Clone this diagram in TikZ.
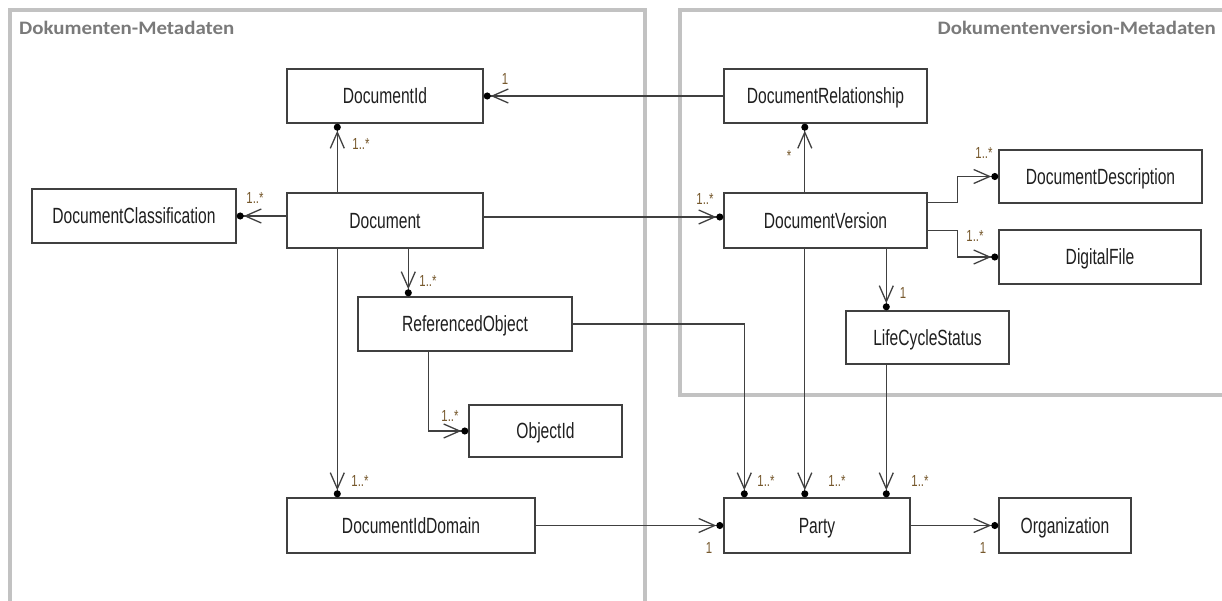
\documentclass[tikz,border=0pt]{standalone}
\usepackage{fontspec}
\setmainfont{Liberation Sans}
\newfontfamily\umlfont[FakeStretch=0.71]{Liberation Sans}
\newfontfamily\titlefont[FakeStretch=1.1]{Carlito}
\usetikzlibrary{arrows.meta}

\definecolor{framegray}{RGB}{194,194,194}
\definecolor{titlegray}{RGB}{122,122,122}
\definecolor{edgegray}{RGB}{64,64,64}
\definecolor{multcol}{RGB}{118,88,44}

\begin{document}
\begin{tikzpicture}[x=1pt,y=-1pt,
  cls/.style={draw=edgegray, line width=1.4pt, fill=white, inner sep=0pt,
    font=\umlfont\fontsize{22}{24}\selectfont, text=black!88,
    text height=15.8pt, text depth=0pt},
  assoc/.style={draw=edgegray, line width=1.3pt,
    -{Straight Barb[length=16pt,width=14pt,line width=1.3pt] Circle[length=7pt,color=black]}},
  mlt/.style={font=\umlfont\fontsize{16}{18}\selectfont, text=multcol, inner sep=0pt},
  frm/.style={draw=framegray, line width=4pt},
  ttl/.style={font=\titlefont\bfseries\fontsize{19}{22}\selectfont, text=titlegray, inner sep=0pt}
]
\fill[white] (0,0) rectangle (1222,601);
\useasboundingbox (0,0) rectangle (1222,601);

% package frames
\draw[frm] (10,10) rectangle (645,604);
\draw[frm] (680,10) rectangle (1228,395);
\node[ttl, anchor=base west] (ttlleft) at (19,35) {Dokumenten-Metadaten};
\node[ttl, anchor=base east] (ttlright) at (1216,35) {Dokumentenversion-Metadaten};

% classes
\node[cls, minimum width=196pt, minimum height=54pt] (docid)  at (385,96)    {DocumentId};
\node[cls, minimum width=203pt, minimum height=54pt] (docrel) at (825.5,96)  {DocumentRelationship};
\node[cls, minimum width=204pt, minimum height=54pt] (dcls)   at (134,216)   {DocumentClassification};
\node[cls, minimum width=196pt, minimum height=55pt] (doc)    at (385,220.5) {Document};
\node[cls, minimum width=203pt, minimum height=55pt] (dv)     at (825.5,220.5) {DocumentVersion};
\node[cls, minimum width=203pt, minimum height=53pt] (desc)   at (1100.5,176.5) {DocumentDescription};
\node[cls, minimum width=202pt, minimum height=54pt] (df)     at (1100,257)  {DigitalFile};
\node[cls, minimum width=163pt, minimum height=53pt] (lcs)    at (927.5,337.5) {LifeCycleStatus};
\node[cls, minimum width=214pt, minimum height=54pt] (ro)     at (465,324)   {ReferencedObject};
\node[cls, minimum width=153pt, minimum height=52pt] (oid)    at (545.5,431) {ObjectId};
\node[cls, minimum width=248pt, minimum height=55pt] (did)    at (411,525.5) {DocumentIdDomain};
\node[cls, minimum width=186pt, minimum height=55pt] (party)  at (817,525.5) {Party};
\node[cls, minimum width=132pt, minimum height=55pt] (org)    at (1065,525.5) {Organization};

% associations
\draw[assoc] (docrel.west) -- (docid.east);
\draw[assoc] ([xshift=51pt]doc.north west) -- ([xshift=51pt]docid.south west);
\draw[assoc] (doc.west |- dcls.east) -- (dcls.east);
\draw[assoc] ([yshift=3.5pt]doc.east) -- ([yshift=3.5pt]dv.west);
\draw[assoc] ([xshift=81.5pt]dv.north west) -- ([xshift=81.5pt]docrel.south west);
\draw[assoc] ([xshift=122pt]doc.south west) -- ([xshift=51pt]ro.north west);
\draw[assoc] ([xshift=51pt]doc.south west) -- ([xshift=51pt]did.north west);
\draw[assoc] ([xshift=71pt]ro.south west) |- (oid.west);
\draw[assoc] (ro.east) -| ([xshift=21pt]party.north west);
\draw[assoc] ([xshift=81.5pt]dv.south west) -- ([xshift=81.5pt]party.north west);
\draw[assoc] ([xshift=41pt]lcs.south west) -- ([xshift=163pt]party.north west);
\draw[assoc] ([xshift=163pt]dv.south west) -- ([xshift=41pt]lcs.north west);
\draw[assoc] ([yshift=-10pt]dv.north east) -- ++(30,0) |- (desc.west);
\draw[assoc] ([yshift=18pt]dv.south east) -- ++(30,0) |- (df.west);
\draw[assoc] (did.east) -- (party.west);
\draw[assoc] (party.east) -- (org.west);

% multiplicities
\node[mlt] (m1)  at (505,79)  {1};
\node[mlt] (m2)  at (361,144) {1..*};
\node[mlt] (m3)  at (255,198) {1..*};
\node[mlt] (m4)  at (705,199) {1..*};
\node[mlt] (m5)  at (789,156) {*};
\node[mlt] (m6)  at (428,281) {1..*};
\node[mlt] (m7)  at (450,416) {1..*};
\node[mlt] (m8)  at (360,481) {1..*};
\node[mlt] (m9)  at (766,481) {1..*};
\node[mlt] (m10) at (837,481) {1..*};
\node[mlt] (m11) at (920,481) {1..*};
\node[mlt] (m12) at (903,293) {1};
\node[mlt] (m13) at (984,153) {1..*};
\node[mlt] (m14) at (975,236) {1..*};
\node[mlt] (m15) at (709,548) {1};
\node[mlt] (m16) at (983,548) {1};
\end{tikzpicture}
\end{document}
